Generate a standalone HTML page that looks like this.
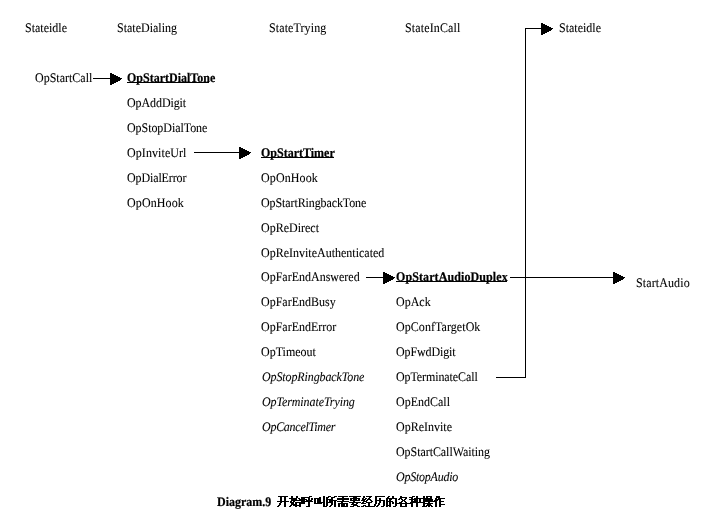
<!DOCTYPE html>
<html><head><meta charset="utf-8"><title>Diagram.9</title><style>
html,body{margin:0;padding:0;background:#fff;}
body{width:716px;height:520px;position:relative;overflow:hidden;font-family:"Liberation Serif",serif;font-size:12px;color:#000;}
.t{-webkit-text-stroke:0.08px #000;position:absolute;white-space:nowrap;line-height:14px;transform:matrix(1,0,0.0005,1.09,0,0);filter:grayscale(1);transform-origin:0 11px;}
.b,.bu{font-weight:bold;-webkit-text-stroke:0.2px #000;}
.i{font-style:italic;}
svg{position:absolute;left:0;top:0;}
</style></head><body>
<div class="t" style="left:25px;top:21px">Stateidle</div>
<div class="t" style="left:117px;top:21px">StateDialing</div>
<div class="t" style="left:269px;top:21px;letter-spacing:0.1px">StateTrying</div>
<div class="t" style="left:405px;top:21px;letter-spacing:0.13px">StateInCall</div>
<div class="t" style="left:559px;top:21px">Stateidle</div>
<div class="t" style="left:35px;top:71px">OpStartCall</div>
<div class="t bu" style="left:127px;top:71px">OpStartDialTone</div>
<div class="t" style="left:127px;top:96px;letter-spacing:-0.09px">OpAddDigit</div>
<div class="t" style="left:127px;top:121px;letter-spacing:-0.06px">OpStopDialTone</div>
<div class="t" style="left:127px;top:146px;letter-spacing:0.08px">OpInviteUrl</div>
<div class="t" style="left:127px;top:171px;letter-spacing:-0.12px">OpDialError</div>
<div class="t" style="left:127px;top:196px;letter-spacing:0.11px">OpOnHook</div>
<div class="t bu" style="left:261px;top:146px">OpStartTimer</div>
<div class="t" style="left:261px;top:171px;letter-spacing:0.11px">OpOnHook</div>
<div class="t" style="left:261px;top:196px;letter-spacing:-0.1px">OpStartRingbackTone</div>
<div class="t" style="left:261px;top:221px">OpReDirect</div>
<div class="t" style="left:261px;top:246px">OpReInviteAuthenticated</div>
<div class="t" style="left:261px;top:270px">OpFarEndAnswered</div>
<div class="t" style="left:261px;top:295px">OpFarEndBusy</div>
<div class="t" style="left:261px;top:320px">OpFarEndError</div>
<div class="t" style="left:261px;top:345px">OpTimeout</div>
<div class="t i" style="left:262px;top:370px;letter-spacing:-0.11px">OpStopRingbackTone</div>
<div class="t i" style="left:262px;top:395px;letter-spacing:-0.09px">OpTerminateTrying</div>
<div class="t i" style="left:262px;top:420px;letter-spacing:-0.27px">OpCancelTimer</div>
<div class="t bu" style="left:396px;top:270px;letter-spacing:0.1px">OpStartAudioDuplex</div>
<div class="t" style="left:396px;top:295px">OpAck</div>
<div class="t" style="left:396px;top:320px;letter-spacing:0.06px">OpConfTargetOk</div>
<div class="t" style="left:396px;top:345px;letter-spacing:-0.12px">OpFwdDigit</div>
<div class="t" style="left:396px;top:370px;letter-spacing:-0.1px">OpTerminateCall</div>
<div class="t" style="left:396px;top:395px">OpEndCall</div>
<div class="t" style="left:396px;top:420px">OpReInvite</div>
<div class="t" style="left:396px;top:445px;letter-spacing:-0.06px">OpStartCallWaiting</div>
<div class="t i" style="left:396px;top:470px;letter-spacing:-0.24px">OpStopAudio</div>
<div class="t" style="left:636px;top:276px;letter-spacing:0.11px">StartAudio</div>
<div class="t b" style="left:217px;top:495px">Diagram.9<span style="visibility:hidden"> 开始呼叫所需要经历的各种操作</span></div>
<svg width="716" height="520" viewBox="0 0 716 520" shape-rendering="crispEdges">
<g stroke="#000" stroke-width="1" fill="none">
<path d="M93 78.5H110"/>
<path d="M194 152.5H239"/>
<path d="M366 277.5H383"/>
<path d="M510 277.5H613"/>
<path d="M496 377.5H525.5V28.5H541"/>
<path d="M127 82.5H209"/>
<path d="M261 157.5H334"/>
<path d="M396 281.5H507"/>
</g>
<g fill="#000">
<path d="M110 73h2v1h2v1h2v1h2v1h2v1h2v1h-1v1h-1v1h-2v1h-2v1h-2v1h-2v1h-2z"/>
<path d="M239 147h2v1h2v1h2v1h2v1h2v1h2v1h-1v1h-1v1h-2v1h-2v1h-2v1h-2v1h-2z"/>
<path d="M383 272h2v1h2v1h2v1h2v1h2v1h2v1h-1v1h-1v1h-2v1h-2v1h-2v1h-2v1h-2z"/>
<path d="M613 272h2v1h2v1h2v1h2v1h2v1h2v1h-1v1h-1v1h-2v1h-2v1h-2v1h-2v1h-2z"/>
<path d="M541 23h2v1h2v1h2v1h2v1h2v1h2v1h-1v1h-1v1h-2v1h-2v1h-2v1h-2v1h-2z"/>
</g>
<path fill="#000" d="M278 496h10v1h-10zM291 496h2v1h-2zM296 496h2v1h-2zM309 496h3v1h-3zM323 496h2v1h-2zM328 496h3v1h-3zM334 496h3v1h-3zM338 496h10v1h-10zM349 496h12v1h-12zM363 496h2v1h-2zM366 496h6v1h-6zM375 496h10v1h-10zM388 496h2v1h-2zM392 496h2v1h-2zM400 496h2v1h-2zM412 496h3v1h-3zM416 496h2v1h-2zM423 496h2v1h-2zM426 496h6v1h-6zM436 496h4v1h-4zM280 497h2v1h-2zM284 497h2v1h-2zM291 497h2v1h-2zM296 497h2v1h-2zM301 497h9v1h-9zM319 497h2v1h-2zM323 497h2v1h-2zM326 497h3v1h-3zM331 497h4v1h-4zM342 497h2v1h-2zM353 497h4v1h-4zM363 497h2v1h-2zM369 497h2v1h-2zM375 497h2v1h-2zM387 497h2v1h-2zM392 497h2v1h-2zM400 497h7v1h-7zM409 497h4v1h-4zM416 497h2v1h-2zM423 497h2v1h-2zM426 497h2v1h-2zM430 497h2v1h-2zM436 497h4v1h-4zM280 498h2v1h-2zM284 498h2v1h-2zM289 498h8v1h-8zM298 498h2v1h-2zM301 498h4v1h-4zM308 498h2v1h-2zM311 498h2v1h-2zM314 498h7v1h-7zM323 498h2v1h-2zM326 498h2v1h-2zM331 498h2v1h-2zM337 498h12v1h-12zM350 498h10v1h-10zM362 498h2v1h-2zM365 498h2v1h-2zM368 498h2v1h-2zM375 498h2v1h-2zM379 498h2v1h-2zM386 498h11v1h-11zM399 498h3v1h-3zM405 498h2v1h-2zM411 498h2v1h-2zM414 498h18v1h-18zM435 498h2v1h-2zM438 498h7v1h-7zM280 499h2v1h-2zM284 499h2v1h-2zM291 499h6v1h-6zM299 499h8v1h-8zM308 499h2v1h-2zM311 499h2v1h-2zM314 499h2v1h-2zM317 499h4v1h-4zM323 499h2v1h-2zM326 499h7v1h-7zM337 499h12v1h-12zM350 499h2v1h-2zM353 499h4v1h-4zM358 499h2v1h-2zM362 499h4v1h-4zM367 499h4v1h-4zM375 499h2v1h-2zM379 499h2v1h-2zM386 499h2v1h-2zM389 499h3v1h-3zM395 499h2v1h-2zM398 499h2v1h-2zM401 499h2v1h-2zM404 499h2v1h-2zM409 499h9v1h-9zM419 499h2v1h-2zM423 499h10v1h-10zM435 499h6v1h-6zM280 500h2v1h-2zM284 500h2v1h-2zM291 500h14v1h-14zM306 500h6v1h-6zM314 500h2v1h-2zM317 500h4v1h-4zM323 500h2v1h-2zM326 500h2v1h-2zM329 500h8v1h-8zM342 500h2v1h-2zM350 500h10v1h-10zM361 500h4v1h-4zM366 500h2v1h-2zM370 500h2v1h-2zM375 500h10v1h-10zM386 500h2v1h-2zM389 500h2v1h-2zM395 500h2v1h-2zM402 500h3v1h-3zM411 500h2v1h-2zM414 500h4v1h-4zM419 500h2v1h-2zM423 500h10v1h-10zM434 500h4v1h-4zM439 500h2v1h-2zM277 501h12v1h-12zM290 501h2v1h-2zM293 501h2v1h-2zM301 501h12v1h-12zM314 501h2v1h-2zM317 501h4v1h-4zM323 501h2v1h-2zM326 501h2v1h-2zM329 501h4v1h-4zM334 501h2v1h-2zM337 501h12v1h-12zM353 501h2v1h-2zM363 501h4v1h-4zM371 501h2v1h-2zM375 501h2v1h-2zM379 501h2v1h-2zM383 501h2v1h-2zM386 501h7v1h-7zM395 501h2v1h-2zM401 501h2v1h-2zM404 501h2v1h-2zM411 501h7v1h-7zM419 501h2v1h-2zM423 501h14v1h-14zM439 501h5v1h-5zM280 502h2v1h-2zM284 502h2v1h-2zM290 502h4v1h-4zM295 502h10v1h-10zM308 502h2v1h-2zM314 502h2v1h-2zM317 502h8v1h-8zM326 502h7v1h-7zM334 502h2v1h-2zM341 502h2v1h-2zM349 502h12v1h-12zM362 502h2v1h-2zM366 502h6v1h-6zM375 502h2v1h-2zM379 502h2v1h-2zM383 502h2v1h-2zM386 502h2v1h-2zM389 502h2v1h-2zM392 502h2v1h-2zM395 502h2v1h-2zM399 502h3v1h-3zM405 502h2v1h-2zM410 502h15v1h-15zM428 502h2v1h-2zM435 502h2v1h-2zM439 502h2v1h-2zM279 503h2v1h-2zM284 503h2v1h-2zM291 503h3v1h-3zM295 503h2v1h-2zM299 503h6v1h-6zM308 503h2v1h-2zM314 503h8v1h-8zM323 503h2v1h-2zM326 503h2v1h-2zM331 503h2v1h-2zM334 503h2v1h-2zM338 503h10v1h-10zM352 503h2v1h-2zM356 503h2v1h-2zM361 503h5v1h-5zM368 503h2v1h-2zM375 503h2v1h-2zM378 503h2v1h-2zM383 503h2v1h-2zM386 503h2v1h-2zM389 503h2v1h-2zM392 503h2v1h-2zM395 503h18v1h-18zM416 503h2v1h-2zM423 503h10v1h-10zM435 503h2v1h-2zM439 503h2v1h-2zM279 504h2v1h-2zM284 504h2v1h-2zM291 504h6v1h-6zM299 504h2v1h-2zM308 504h2v1h-2zM323 504h2v1h-2zM326 504h2v1h-2zM331 504h2v1h-2zM334 504h2v1h-2zM338 504h2v1h-2zM341 504h4v1h-4zM346 504h2v1h-2zM351 504h6v1h-6zM368 504h2v1h-2zM374 504h2v1h-2zM378 504h2v1h-2zM383 504h2v1h-2zM386 504h2v1h-2zM389 504h2v1h-2zM395 504h2v1h-2zM400 504h2v1h-2zM405 504h2v1h-2zM411 504h2v1h-2zM416 504h2v1h-2zM423 504h2v1h-2zM427 504h4v1h-4zM435 504h2v1h-2zM439 504h6v1h-6zM278 505h2v1h-2zM284 505h2v1h-2zM290 505h2v1h-2zM293 505h8v1h-8zM308 505h2v1h-2zM323 505h2v1h-2zM326 505h2v1h-2zM330 505h2v1h-2zM334 505h2v1h-2zM338 505h2v1h-2zM341 505h4v1h-4zM346 505h2v1h-2zM353 505h5v1h-5zM363 505h3v1h-3zM368 505h2v1h-2zM374 505h2v1h-2zM377 505h2v1h-2zM383 505h2v1h-2zM386 505h5v1h-5zM395 505h2v1h-2zM400 505h2v1h-2zM405 505h2v1h-2zM411 505h2v1h-2zM416 505h2v1h-2zM423 505h2v1h-2zM426 505h6v1h-6zM435 505h2v1h-2zM439 505h2v1h-2zM277 506h2v1h-2zM284 506h2v1h-2zM289 506h2v1h-2zM295 506h2v1h-2zM299 506h2v1h-2zM306 506h4v1h-4zM323 506h4v1h-4zM329 506h2v1h-2zM334 506h2v1h-2zM338 506h2v1h-2zM341 506h7v1h-7zM350 506h4v1h-4zM357 506h3v1h-3zM361 506h3v1h-3zM365 506h10v1h-10zM376 506h2v1h-2zM381 506h3v1h-3zM386 506h2v1h-2zM389 506h2v1h-2zM393 506h3v1h-3zM400 506h7v1h-7zM411 506h2v1h-2zM416 506h2v1h-2zM422 506h5v1h-5zM428 506h2v1h-2zM431 506h2v1h-2zM435 506h2v1h-2zM439 506h2v1h-2z"/>
</svg>
</body></html>
